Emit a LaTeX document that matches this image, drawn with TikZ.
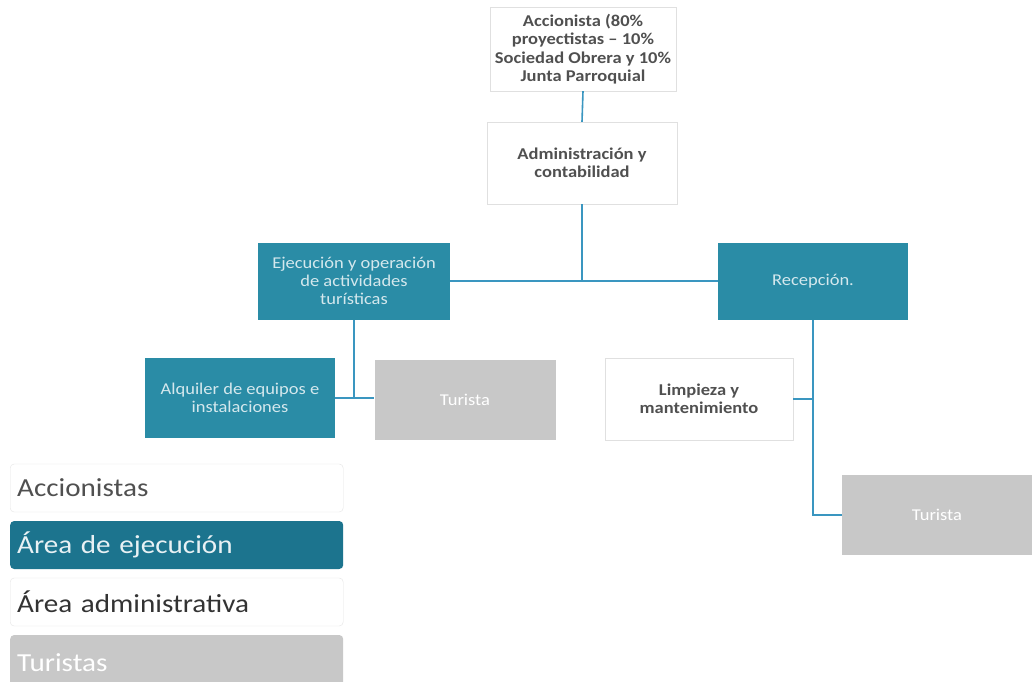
\documentclass[tikz,border=0pt]{standalone}
\usepackage{fontspec}
\setmainfont{Carlito}
\newfontfamily\widefont[FakeStretch=1.12,Ligatures=TeX]{Carlito}
\usetikzlibrary{positioning}
\definecolor{boxteal}{RGB}{42,140,166}
\definecolor{keyteal}{RGB}{28,116,142}
\definecolor{boxgrey}{RGB}{200,200,200}
\definecolor{linkblue}{RGB}{58,150,192}
\definecolor{txtgrey}{RGB}{80,80,80}

\begin{document}
\begin{tikzpicture}[x=1pt,y=-1pt,
    box/.style={minimum width=190pt,minimum height=80pt,align=center,inner sep=1pt,
      font=\widefont\fontsize{16.5}{18.5}\selectfont\bfseries},
    wbox/.style={box,fill=white,draw=black!12,text=txtgrey},
    tbox/.style={box,fill=boxteal,text=white!80!boxteal,font=\widefont\fontsize{16.5}{18}\selectfont},
    gbox/.style={box,fill=boxgrey,text=white,font=\widefont\fontsize{16.5}{18}\selectfont},
    link/.style={draw=linkblue,line width=1.6pt},
    keybox/.style={rounded corners=4pt,minimum height=48pt,anchor=west,text width=319pt,
      inner xsep=7pt,font=\widefont\fontsize{26}{28}\selectfont}]
  \useasboundingbox[fill=white] (0,0) rectangle (1034,681);

  % organigrama
  \node[wbox,minimum width=186pt,minimum height=84pt] (acc) at (583,49)
    {Accionista (80\%\\proyectistas \textendash{} 10\%\\Sociedad Obrera y 10\%\\Junta Parroquial};
  \node[wbox,minimum height=82pt] (adm) at (582,163) {Administración y\\contabilidad};
  \node[tbox,minimum width=192pt,minimum height=77pt] (eje) at (354,281)
    {Ejecución y operación\\de actividades\\turísticas};
  \node[tbox,minimum height=77pt] (rec) at (813,281) {Recepción.};
  \node[tbox] (alq) at (240,398) {Alquiler de equipos e\\instalaciones};
  \node[gbox,minimum width=181pt] (tur1) at (465,400) {Turista};
  \node[wbox,minimum width=188pt,minimum height=82pt] (lim) at (699,399) {Limpieza y\\mantenimiento};
  \node[gbox] (tur2) at (937,515) {Turista};

  \coordinate (j1) at (adm.south |- eje.east);
  \coordinate (j2) at (eje.south |- alq.east);
  \draw[link] (acc.south) -- (adm.north);
  \draw[link] (adm.south) -- (j1);
  \draw[link] (eje.east) -- (rec.west);
  \draw[link] (eje.south) -- (j2);
  \draw[link] (alq.east) -- (alq.east -| tur1.west);
  \draw[link] (rec.south) |- (tur2.west);
  \draw[link] (lim.east) -- (lim.east -| rec.south);

  % leyenda
  \node[keybox,fill=white,draw=black!10,text=txtgrey] (k1) at (10,488) {Accionistas};
  \node[keybox,fill=keyteal,text=white!90!keyteal] (k2) at (10,545) {Área de ejecución};
  \node[keybox,fill=white,draw=black!10,text=black!80] (k3) at (10,602) {Área administrativa};
  \node[keybox,fill=boxgrey,text=white,minimum height=56pt] (k4) at (10,663) {Turistas};
\end{tikzpicture}
\end{document}
